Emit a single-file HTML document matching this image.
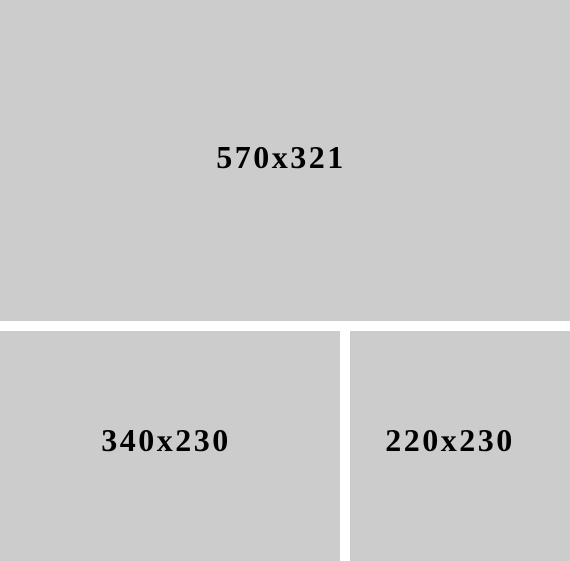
<!DOCTYPE html>
<html>
<head>
<meta charset="utf-8">
<style>
  html, body { margin: 0; padding: 0; background: #ffffff; }
  body { width: 570px; height: 561px; position: relative; overflow: hidden; }
  .box {
    position: absolute;
    background: #cccccc;
    display: flex;
    align-items: center;
    justify-content: center;
    font-family: "Liberation Serif", serif;
    font-weight: bold;
    font-size: 32px;
    letter-spacing: 2.5px;
    color: #000;
  }
</style>
</head>
<body>
  <div class="box"
       style="left:0;top:0;width:570px;height:321px;padding-bottom:6px;box-sizing:border-box;">
    <span style="margin-left:-8px;">570x321</span>
  </div>
  <div class="box"
       style="left:0;top:331px;width:340px;height:230px;padding-bottom:12px;box-sizing:border-box;">
    <span style="margin-left:-8px;">340x230</span>
  </div>
  <div class="box"
       style="left:350px;top:331px;width:220px;height:230px;padding-bottom:12px;box-sizing:border-box;">
    <span style="margin-left:-20px;">220x230</span>
  </div>
</body>
</html>
